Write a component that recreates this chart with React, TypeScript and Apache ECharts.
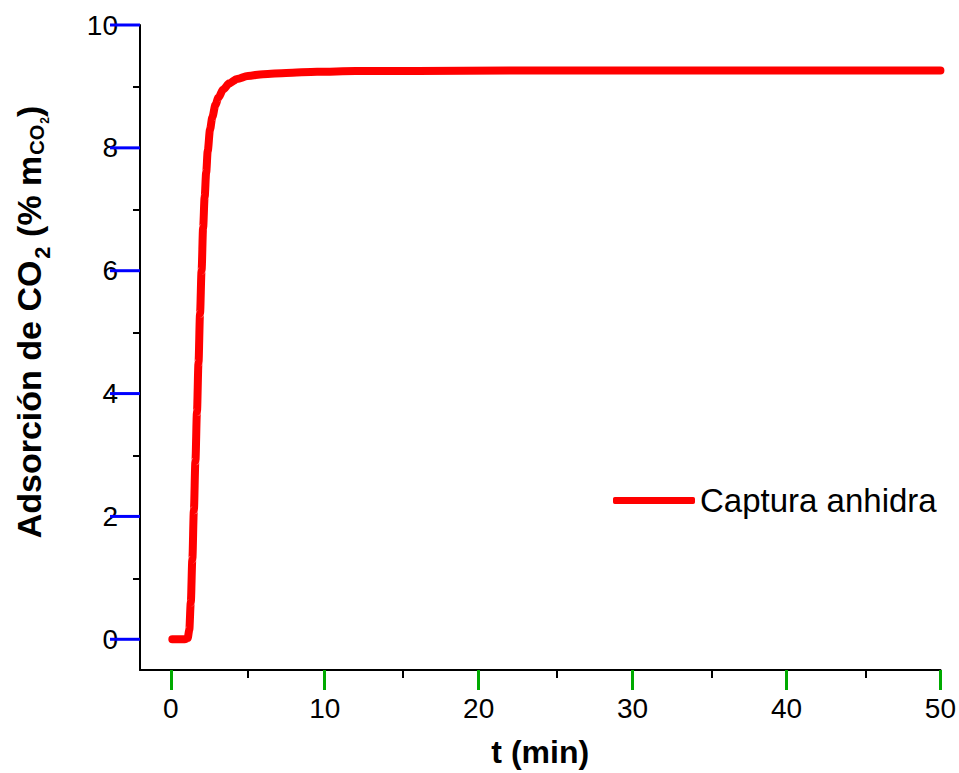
import React, { useEffect, useRef } from "react";
import * as echarts from "echarts";

// Elapsed time (min) and CO2 uptake (% mass) for the anhydrous capture run
const timeMin = [0.1, 0.5, 0.9, 1.1, 1.2, 1.3, 1.4, 1.5, 1.6, 1.7, 1.8, 1.9, 2.0, 2.1, 2.2, 2.3, 2.4, 2.55, 2.7, 2.9, 3.1, 3.4, 3.8, 4.3, 5.0, 6.0, 7.5, 9.5, 12, 16, 22, 30, 40, 50];
const adsorption = [0, 0, 0, 0.02, 0.15, 0.6, 1.3, 2.1, 2.9, 3.7, 4.5, 5.3, 6.0, 6.7, 7.2, 7.6, 7.95, 8.3, 8.5, 8.7, 8.82, 8.95, 9.05, 9.12, 9.17, 9.2, 9.22, 9.24, 9.25, 9.25, 9.26, 9.26, 9.26, 9.26];

const seriesName = "Captura anhidra";
const xMajorTicks = [0, 10, 20, 30, 40, 50];
const xMinorTicks = [5, 15, 25, 35, 45];
const yMajorTicks = [0, 2, 4, 6, 8, 10];
const yMinorTicks = [1, 3, 5, 7, 9];

const FONT = "'Liberation Sans', Arial, Helvetica, sans-serif";
const X_MIN = -2;
const X_MAX = 50;
const Y_MIN = -0.5;
const Y_MAX = 10;
const MAJOR_LEN = 12;

const plotBox = { left: 140, right: 16, top: 25, bottom: 102, containLabel: false };
const tickStyle = { color: "#000", width: 2 };

// An axis in the overlay grid that only draws short minor tick marks
function minorTickAxis(pos: string, min: number, max: number, values: number[]) {
  return {
    gridIndex: 1,
    type: "value",
    min,
    max,
    position: pos,
    axisLine: { show: false, onZero: false },
    axisTick: { show: true, customValues: values, length: 7, lineStyle: tickStyle },
    axisLabel: { show: false },
    splitLine: { show: false },
  };
}

// Long tick marks hanging off the y axis line, positioned by the cartesian scales
function majorTickSeries(id: string, data: number[][]) {
  return {
    id,
    type: "custom",
    coordinateSystem: "cartesian2d",
    xAxisIndex: 0,
    yAxisIndex: 0,
    clip: false,
    silent: true,
    z: 5,
    data,
    renderItem: (_params: any, api: any) => {
      const p = api.coord([api.value(0), api.value(1)]);
      return {
        type: "line",
        shape: { x1: p[0], y1: p[1], x2: p[0] - 30, y2: p[1] },
        style: { stroke: "#0000ff", lineWidth: 3 },
      };
    },
  };
}

export default function App() {
  const ref = useRef<HTMLDivElement>(null);

  useEffect(() => {
    if (!ref.current) return;
    const chart = echarts.init(ref.current, undefined, { renderer: "svg" });

    const axisLine = { show: true, onZero: false, lineStyle: { color: "#000", width: 2 } };

    chart.setOption({
      animation: false,
      backgroundColor: "#fff",
      grid: [plotBox, plotBox],
      legend: {
        data: [seriesName],
        left: 613,
        top: 484,
        padding: 0,
        icon: "roundRect",
        itemWidth: 82,
        itemHeight: 7,
        textStyle: { fontFamily: FONT, fontSize: 33, color: "#000" },
      },
      xAxis: [
        {
          gridIndex: 0,
          type: "value",
          min: X_MIN,
          max: X_MAX,
          position: "bottom",
          axisLine,
          axisTick: { show: true, customValues: xMajorTicks, length: 20, lineStyle: { color: "#00aa00", width: 3 } },
          axisLabel: {
            customValues: xMajorTicks,
            margin: 24,
            fontFamily: FONT,
            fontSize: 28,
            color: "#000",
          },
          splitLine: { show: false },
          name: "t (min)",
          nameLocation: "middle",
          nameGap: 66,
          nameTextStyle: { fontFamily: FONT, fontSize: 32, fontWeight: "bold", color: "#000" },
        },
        minorTickAxis("bottom", X_MIN, X_MAX, xMinorTicks),
      ],
      yAxis: [
        {
          gridIndex: 0,
          type: "value",
          min: Y_MIN,
          max: Y_MAX,
          position: "left",
          axisLine,
          axisTick: { show: false },
          axisLabel: {
            customValues: yMajorTicks,
            margin: 22,
            fontFamily: FONT,
            fontSize: 28,
            color: "#000",
          },
          splitLine: { show: false },
        },
        minorTickAxis("left", Y_MIN, Y_MAX, yMinorTicks),
      ],
      graphic: [
        {
          type: "text",
          x: 29,
          y: 322,
          rotation: Math.PI / 2,
          style: {
            text: "{a|Adsorción de CO}{s|2}{a| (% m}{c|CO}{t|2}{a|)}",
            align: "center",
            verticalAlign: "middle",
            fill: "#000",
            rich: {
              a: { fontFamily: FONT, fontSize: 34, fontWeight: "bold", lineHeight: 40, fill: "#000" },
              s: { fontFamily: FONT, fontSize: 22, fontWeight: "bold", lineHeight: 24, padding: [26, 0, 0, 2], fill: "#000" },
              c: { fontFamily: FONT, fontSize: 20, fontWeight: "bold", lineHeight: 22, padding: [16, 0, 0, 1], fill: "#000" },
              t: { fontFamily: FONT, fontSize: 12, fontWeight: "bold", lineHeight: 14, padding: [32, 0, 0, 1], fill: "#000" },
            },
          },
        },
      ],
      series: [
        {
          name: seriesName,
          type: "line",
          xAxisIndex: 0,
          yAxisIndex: 0,
          data: timeMin.map((t, i) => [t, adsorption[i]]),
          showSymbol: false,
          symbol: "none",
          smooth: 0.3,
          smoothMonotone: "x",
          lineStyle: { color: "#ff0000", width: 8, cap: "round", join: "round" },
          itemStyle: { color: "#ff0000" },
        },
        majorTickSeries("y-major-ticks", yMajorTicks.map((v) => [X_MIN, v])),
      ],
    });

    return () => chart.dispose();
  }, []);

  return (
    <div
      ref={ref}
      style={{ position: "fixed", left: 0, top: 0, width: 959, height: 773, background: "#fff" }}
    />
  );
}
